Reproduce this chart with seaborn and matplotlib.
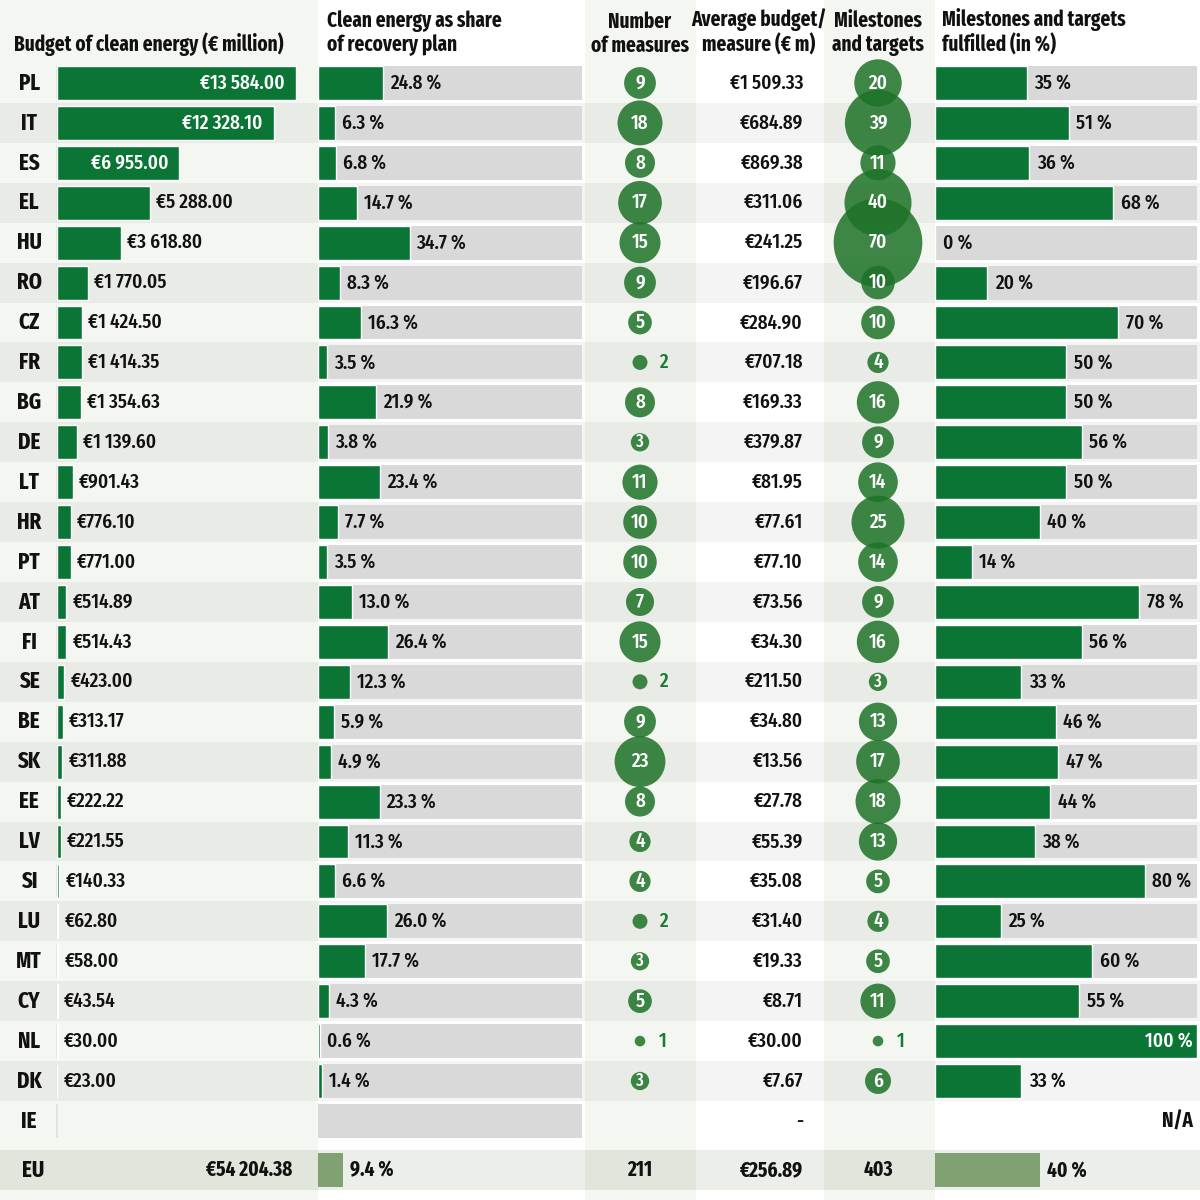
import matplotlib.pyplot as plt
import pandas as pd
import seaborn as sns
from matplotlib import font_manager as fm

# ---- data ----
countries = ["PL", "IT", "ES", "EL", "HU", "RO", "CZ", "FR", "BG", "DE", "LT", "HR", "PT", "AT",
             "FI", "SE", "BE", "SK", "EE", "LV", "SI", "LU", "MT", "CY", "NL", "DK", "IE"]
budget = [13584.00, 12328.10, 6955.00, 5288.00, 3618.80, 1770.05, 1424.50, 1414.35, 1354.63,
          1139.60, 901.43, 776.10, 771.00, 514.89, 514.43, 423.00, 313.17, 311.88, 222.22,
          221.55, 140.33, 62.80, 58.00, 43.54, 30.00, 23.00, None]
share = [24.8, 6.3, 6.8, 14.7, 34.7, 8.3, 16.3, 3.5, 21.9, 3.8, 23.4, 7.7, 3.5, 13.0, 26.4,
         12.3, 5.9, 4.9, 23.3, 11.3, 6.6, 26.0, 17.7, 4.3, 0.6, 1.4, None]
measures = [9, 18, 8, 17, 15, 9, 5, 2, 8, 3, 11, 10, 10, 7, 15, 2, 9, 23, 8, 4, 4, 2, 3, 5, 1, 3, None]
avg_budget = [1509.33, 684.89, 869.38, 311.06, 241.25, 196.67, 284.90, 707.18, 169.33, 379.87,
              81.95, 77.61, 77.10, 73.56, 34.30, 211.50, 34.80, 13.56, 27.78, 55.39, 35.08,
              31.40, 19.33, 8.71, 30.00, 7.67, None]
milestones = [20, 39, 11, 40, 70, 10, 10, 4, 16, 9, 14, 25, 14, 9, 16, 3, 13, 17, 18, 13, 5, 4,
              5, 11, 1, 6, None]
fulfilled = [35, 51, 36, 68, 0, 20, 70, 50, 50, 56, 50, 40, 14, 78, 56, 33, 46, 47, 44, 38, 80,
             25, 60, 55, 100, 33, None]
no_track_fulfilled = ["DK", "IE"]

eu_budget = 54204.38
eu_share = 9.4
eu_measures = 211
eu_avg = 256.89
eu_milestones = 403
eu_fulfilled = 40

headers = ["Budget of clean energy (€ million)", "Clean energy as share\nof recovery plan",
           "Number\nof measures", "Average budget/\nmeasure (€ m)", "Milestones\nand targets",
           "Milestones and targets\nfulfilled (in %)"]

# ---- style ----
GREEN = "#0b7535"
CIRCLE = "#1e7228"
EU_GREEN = "#80a172"
TRACK = "#d9d9d9"
COL_BG = "#f4f6f1"
INK = "#111111"

sns.set_theme(style="white")
installed = {f.name for f in fm.fontManager.ttflist}
preferred = ["Fira Sans Extra Condensed", "Fira Sans Condensed", "Roboto Condensed",
             "Ubuntu Condensed", "Liberation Sans Narrow", "Liberation Sans"]
FONT = next(f for f in preferred if f in installed)
plt.rcParams["font.family"] = [FONT, "DejaVu Sans"]

W = 1200
ROW_PX = 39.92
TOP_PX = 83


def yy(px):
    return (px - TOP_PX) / ROW_PX


Y_TOP, Y_BOT = yy(0), yy(1200)
EU_Y = yy(1170)
BAR_H = 0.85
n = len(countries)
rows = list(range(n))


def eur(v):
    return "€" + f"{v:,.2f}".replace(",", " ")


df = pd.DataFrame({"country": countries, "budget": budget, "share": share,
                   "measures": measures, "milestones": milestones, "fulfilled": fulfilled})
df["row"] = rows

fig = plt.figure(figsize=(12, 12), dpi=100, facecolor="white")

# background: column bands + row stripes
ax_bg = fig.add_axes([0, 0, 1, 1])
ax_bg.set_xlim(0, W)
ax_bg.set_ylim(Y_BOT, Y_TOP)
ax_bg.set_axis_off()
for x0, x1 in [(0, 318), (585, 696), (824, 935)]:
    ax_bg.axvspan(x0, x1, color=COL_BG, lw=0, zorder=0)
for i in rows:
    if i % 2 == 1:
        ax_bg.axhspan(i - 0.5, i + 0.5, color="black", alpha=0.045, lw=0, zorder=1)
ax_bg.axhspan(EU_Y - 0.5, EU_Y + 0.5, color="#3c5a28", alpha=0.1, lw=0, zorder=1)


def col_axes(x0, x1, xlim):
    ax = fig.add_axes([x0 / W, 0, (x1 - x0) / W, 1])
    ax.set_xlim(*xlim)
    ax.set_ylim(Y_BOT, Y_TOP)
    ax.set_axis_off()
    ax.patch.set_alpha(0)
    return ax


# headers
hdr = dict(fontsize=15, fontweight="bold", color=INK, va="bottom", linespacing=1.15)
ax_bg.text(14, yy(56), headers[0], ha="left", **hdr)
ax_bg.text(327, yy(56), headers[1], ha="left", **hdr)
ax_bg.text(640, yy(56), headers[2], ha="center", **hdr)
ax_bg.text(759, yy(56), headers[3], ha="center", **hdr)
ax_bg.text(878, yy(56), headers[4], ha="center", **hdr)
ax_bg.text(942, yy(56), headers[5], ha="left", **hdr)

# country labels
for i, c in enumerate(countries):
    ax_bg.text(29, i, c, ha="center", va="center", fontsize=16.5, fontweight="bold", color=INK)
ax_bg.text(33, EU_Y, "EU", ha="center", va="center", fontsize=16.5, fontweight="bold", color=INK)

VAL = dict(fontsize=15, va="center", color=INK, fontweight="medium")
BOLDVAL = {**VAL, "fontweight": "bold"}

# ---- column 1: budget ----
u = 13584 / 239
ax1 = col_axes(0, 318, (-57 * u, (318 - 57) * u))
ax1.vlines([0] * n, [i - BAR_H / 2 for i in rows], [i + BAR_H / 2 for i in rows],
           color="#dddddd", lw=1.2, zorder=1)
sns.barplot(data=df.dropna(subset=["budget"]), x="budget", y="row", orient="h", native_scale=True,
            color=GREEN, saturation=1, width=BAR_H, errorbar=None, ax=ax1, zorder=3)
ax1.set_ylim(Y_BOT, Y_TOP)
ax1.set_xlim(-57 * u, (318 - 57) * u)
ax1.set_axis_off()
for i, v in enumerate(budget):
    if v is None:
        continue
    if v >= 6000:
        ax1.annotate(eur(v), (v, i), xytext=(-8, 0), textcoords="offset points",
                     ha="right", **{**VAL, "color": "white"}, zorder=5)
    else:
        ax1.annotate(eur(v), (v, i), xytext=(4.5, 0), textcoords="offset points",
                     ha="left", **VAL, zorder=5)
ax_bg.text(292, EU_Y, eur(eu_budget), ha="right", **BOLDVAL)

# ---- column 2: share of plan ----
ax2 = col_axes(318, 582, (0, 100))
ax2.barh(rows, [100] * n, height=BAR_H, color=TRACK, lw=0, zorder=1)
sns.barplot(data=df.dropna(subset=["share"]), x="share", y="row", orient="h", native_scale=True,
            color=GREEN, saturation=1, width=BAR_H, errorbar=None, ax=ax2, zorder=3)
ax2.barh(EU_Y, eu_share, height=BAR_H, color=EU_GREEN, lw=0, zorder=3)
ax2.set_ylim(Y_BOT, Y_TOP)
ax2.set_xlim(0, 100)
ax2.set_axis_off()
for i, v in enumerate(share):
    if v is None:
        continue
    ax2.annotate(f"{v:.1f} %", (v, i), xytext=(5, 0), textcoords="offset points",
                 ha="left", **VAL, zorder=5)
ax2.annotate(f"{eu_share:.1f} %", (eu_share, EU_Y), xytext=(5, 0), textcoords="offset points",
             ha="left", **BOLDVAL, zorder=5)

# ---- bubble columns ----
AREA = 58.2  # points^2 per unit


def bubbles(ax, col, eu_val):
    d = df.dropna(subset=[col]).copy()
    d["x"] = 0.0
    vmin, vmax = d[col].min(), d[col].max()
    sns.scatterplot(data=d, x="x", y="row", size=col, sizes=(AREA * vmin, AREA * vmax),
                    size_norm=(vmin, vmax), color=CIRCLE, alpha=0.85, linewidth=0,
                    legend=False, ax=ax, zorder=3)
    ax.set_xlim(-1, 1)
    ax.set_ylim(Y_BOT, Y_TOP)
    ax.set_axis_off()
    for _, r in d.iterrows():
        v = int(r[col])
        if v >= 3:
            fs = 15 if v > 3 else 13
            ax.text(0, r["row"], str(v), ha="center", **{**VAL, "color": "white", "fontsize": fs},
                    zorder=6)
        else:
            ax.annotate(str(v), (0, r["row"]), xytext=(13.5, 0), textcoords="offset points",
                        ha="left", **{**VAL, "color": "#177a36"}, zorder=6)
    ax.text(0, EU_Y, str(eu_val), ha="center", **BOLDVAL, zorder=6)


ax3 = col_axes(585, 695, (-1, 1))
bubbles(ax3, "measures", eu_measures)

ax5 = col_axes(823, 933, (-1, 1))
bubbles(ax5, "milestones", eu_milestones)

# ---- column 4: average budget per measure ----
for i, v in enumerate(avg_budget):
    ax_bg.text(803, i, eur(v) if v is not None else "-", ha="right", **VAL, zorder=5)
ax_bg.text(803, EU_Y, eur(eu_avg), ha="right", **BOLDVAL, zorder=5)

# ---- column 6: fulfilled ----
ax6 = col_axes(935, 1197, (0, 100))
track_rows = [i for i, c in enumerate(countries) if c not in no_track_fulfilled]
ax6.barh(track_rows, [100] * len(track_rows), height=BAR_H, color=TRACK, lw=0, zorder=1)
sns.barplot(data=df.dropna(subset=["fulfilled"]), x="fulfilled", y="row", orient="h",
            native_scale=True, color=GREEN, saturation=1, width=BAR_H, errorbar=None,
            ax=ax6, zorder=3)
ax6.barh(EU_Y, eu_fulfilled, height=BAR_H, color=EU_GREEN, lw=0, zorder=3)
ax6.set_ylim(Y_BOT, Y_TOP)
ax6.set_xlim(0, 100)
ax6.set_axis_off()
for i, v in enumerate(fulfilled):
    if v is None:
        ax6.annotate("N/A", (100, i), xytext=(-3, 0), textcoords="offset points",
                     ha="right", **BOLDVAL, zorder=5)
    elif v >= 90:
        ax6.annotate(f"{v:.0f} %", (v, i), xytext=(-3, 0), textcoords="offset points",
                     ha="right", **{**VAL, "color": "white"}, zorder=5)
    else:
        ax6.annotate(f"{v:.0f} %", (v, i), xytext=(5.5, 0), textcoords="offset points",
                     ha="left", **VAL, zorder=5)
ax6.annotate(f"{eu_fulfilled:.0f} %", (eu_fulfilled, EU_Y), xytext=(5.5, 0),
             textcoords="offset points", ha="left", **BOLDVAL, zorder=5)

fig.savefig("out.png", dpi=100, facecolor="white")
